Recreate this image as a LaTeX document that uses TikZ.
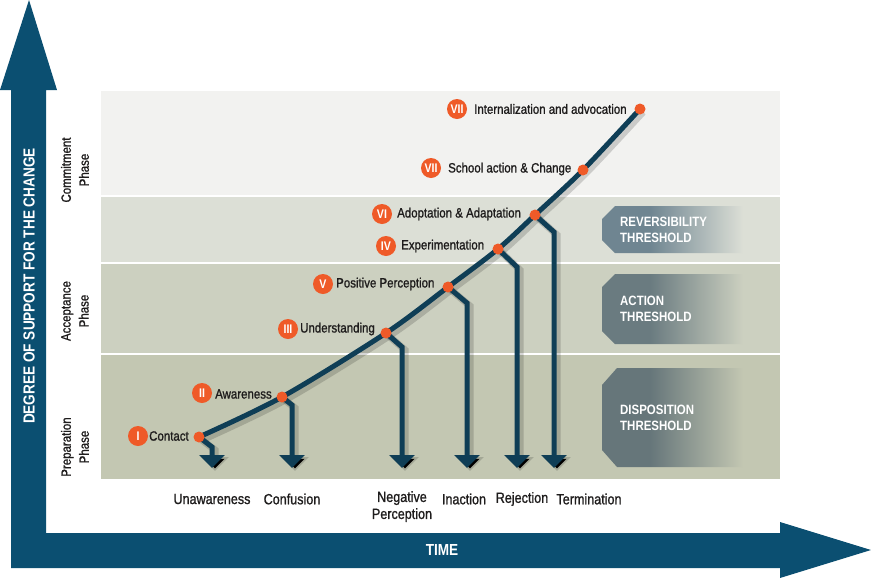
\documentclass[tikz,border=0pt]{standalone}
\usepackage{fontspec}
\setmainfont{Liberation Sans}[FakeStretch=0.85]
\newfontfamily\medfont{Liberation Sans}[FakeStretch=0.85, FakeBold=1.1]
\usetikzlibrary{arrows.meta}
\definecolor{axisblue}{HTML}{0B4F71}
\definecolor{curveblue}{HTML}{0F3E56}
\definecolor{dotorange}{HTML}{EF5A28}
\definecolor{bandA}{HTML}{F2F2F0}
\definecolor{bandB}{HTML}{DCDFD6}
\definecolor{bandC}{HTML}{CCD0C0}
\definecolor{bandD}{HTML}{C3C7B2}
\definecolor{thrB}{HTML}{6F8591}
\definecolor{thrC}{HTML}{6A7B80}
\definecolor{thrD}{HTML}{66767A}
\definecolor{txt}{HTML}{1E1C1C}
\pgfdeclarehorizontalshading{fadeB}{100bp}{color(0bp)=(thrB); color(25bp)=(thrB); color(42bp)=(thrB); color(75bp)=(bandB); color(100bp)=(bandB)}
\pgfdeclarehorizontalshading{fadeC}{100bp}{color(0bp)=(thrC); color(25bp)=(thrC); color(42bp)=(thrC); color(75bp)=(bandC); color(100bp)=(bandC)}
\pgfdeclarehorizontalshading{fadeD}{100bp}{color(0bp)=(thrD); color(25bp)=(thrD); color(42bp)=(thrD); color(75bp)=(bandD); color(100bp)=(bandD)}
\newcommand\changepaths[2]{%
  \draw[#1] plot[smooth,tension=0.5] coordinates {(c1) (c2) (c3) (c4) (c5) (c6) (c7) (c8)};
  \draw[#2] (c1) -- ++(13,10) -- (e1);
  \draw[#2] (c2) -- ++(10,8) -- (e2);
  \draw[#2] (c3) -- ++(16,14) -- (e3);
  \draw[#2] (c4) -- ++(19,16) -- (e4);
  \draw[#2] (c5) -- ++(19,18) -- (e5);
  \draw[#2] (c6) -- ++(19,17) -- (e6);
}
\begin{document}
\begin{tikzpicture}[x=1pt,y=-1pt,
  lbl/.style={font=\medfont\fontsize{13.5}{16}\selectfont, text=txt, anchor=west, inner sep=0},
  num/.style={circle, fill=dotorange, minimum size=20, inner sep=0, text=white, font=\bfseries\fontsize{12.5}{12}\selectfont},
  dot/.style={circle, fill=dotorange, minimum size=11, inner sep=0},
  curve/.style={draw=curveblue, line width=5},
  branch/.style={draw=curveblue, line width=5, -{Triangle[width=25pt,length=13pt]}},
  shcurve/.style={draw=black, draw opacity=0.16, line width=7},
  shbranch/.style={draw=black, draw opacity=0.16, line width=7, -{Triangle[width=27pt,length=14pt]}},
  outcome/.style={font=\medfont\fontsize{14.8}{17}\selectfont, text=txt, align=center, inner sep=0},
  phase/.style={rotate=90, align=center, font=\medfont\fontsize{13.5}{18}\selectfont, text=txt, inner sep=0},
  thr/.style={text=white, font=\bfseries\fontsize{13.5}{16}\selectfont, align=left, anchor=west, inner sep=0},
  axislbl/.style={text=white, font=\bfseries\fontsize{16}{16}\selectfont, inner sep=0}]
\useasboundingbox (0,0) rectangle (871,579);
% bands
\fill[bandA] (101,91) rectangle (780,195);
\fill[bandB] (101,197) rectangle (780,262);
\fill[bandC] (101,264) rectangle (780,353);
\fill[bandD] (101,355) rectangle (780,479);
% thresholds
\shade[shading=fadeB] (615,206) -- (743,206) -- (743,253) -- (615,253) -- (602,240) -- (602,219) -- cycle;
\shade[shading=fadeC] (615,274) -- (743,274) -- (743,344) -- (615,344) -- (602,331) -- (602,287) -- cycle;
\shade[shading=fadeD] (617,368) -- (743,368) -- (743,467) -- (617,467) -- (602,450) -- (602,385) -- cycle;
\node[thr] (tr) at (620,230) {REVERSIBILITY\\THRESHOLD};
\node[thr] (ta) at (620,309) {ACTION\\THRESHOLD};
\node[thr] (td) at (620,418) {DISPOSITION\\THRESHOLD};
% phases
\node[phase] (ph1) at (75,170) {Commitment\\Phase};
\node[phase] (ph2) at (75,311) {Acceptance\\Phase};
\node[phase] (ph3) at (75,447) {Preparation\\Phase};
% axes
\fill[axisblue] (11,568) -- (11,90) -- (0,90) -- (29,0) -- (57,90) -- (46,90) -- (46,533) -- (780,533) -- (780,522) -- (871,550) -- (780,578) -- (780,568) -- cycle;
\node[axislbl, rotate=90] (yl) at (29,286) {DEGREE OF SUPPORT FOR THE CHANGE};
\node[axislbl] (xl) at (442,550) {TIME};
% points
\coordinate (c1) at (199,437);
\coordinate (c2) at (282,397);
\coordinate (c3) at (386,333);
\coordinate (c4) at (448,287);
\coordinate (c5) at (498,249);
\coordinate (c6) at (535,215);
\coordinate (c7) at (583,170);
\coordinate (c8) at (640,109);
\coordinate (e1) at (212,468);
\coordinate (e2) at (292,468);
\coordinate (e3) at (402,468);
\coordinate (e4) at (467,468);
\coordinate (e5) at (517,468);
\coordinate (e6) at (554,468);
\begin{scope}[transform canvas={shift={(3,3)}}]
  \changepaths{shcurve}{shbranch}
\end{scope}
\changepaths{curve}{branch}
\foreach \i in {1,...,8} \node[dot] (d\i) at (c\i) {};
% stage labels
\node[num] (n1) at (138,436) {I};   \node[lbl] (l1) at (149,436) {Contact};
\node[num] (n2) at (202,393) {II};  \node[lbl] (l2) at (215,394) {Awareness};
\node[num] (n3) at (288,329) {III}; \node[lbl] (l3) at (300,329) {Understanding};
\node[num] (n4) at (323,284) {V};   \node[lbl] (l4) at (336,284) {Positive Perception};
\node[num] (n5) at (386,246) {IV};  \node[lbl] (l5) at (401,246) {Experimentation};
\node[num] (n6) at (382,214) {VI};  \node[lbl] (l6) at (397,214) {Adoptation \& Adaptation};
\node[num] (n7) at (431,168) {VII}; \node[lbl] (l7) at (448,169) {School action \& Change};
\node[num] (n8) at (457,109) {VII}; \node[lbl] (l8) at (474,109) {Internalization and advocation};
% outcomes
\node[outcome] (o1) at (212,499) {Unawareness};
\node[outcome] (o2) at (292,499) {Confusion};
\node[outcome, anchor=north] (o3) at (402,491) {Negative\\Perception};
\node[outcome] (o4) at (464,499) {Inaction};
\node[outcome] (o5) at (522,499) {Rejection};
\node[outcome] (o6) at (589,499) {Termination};
\end{tikzpicture}
\end{document}
